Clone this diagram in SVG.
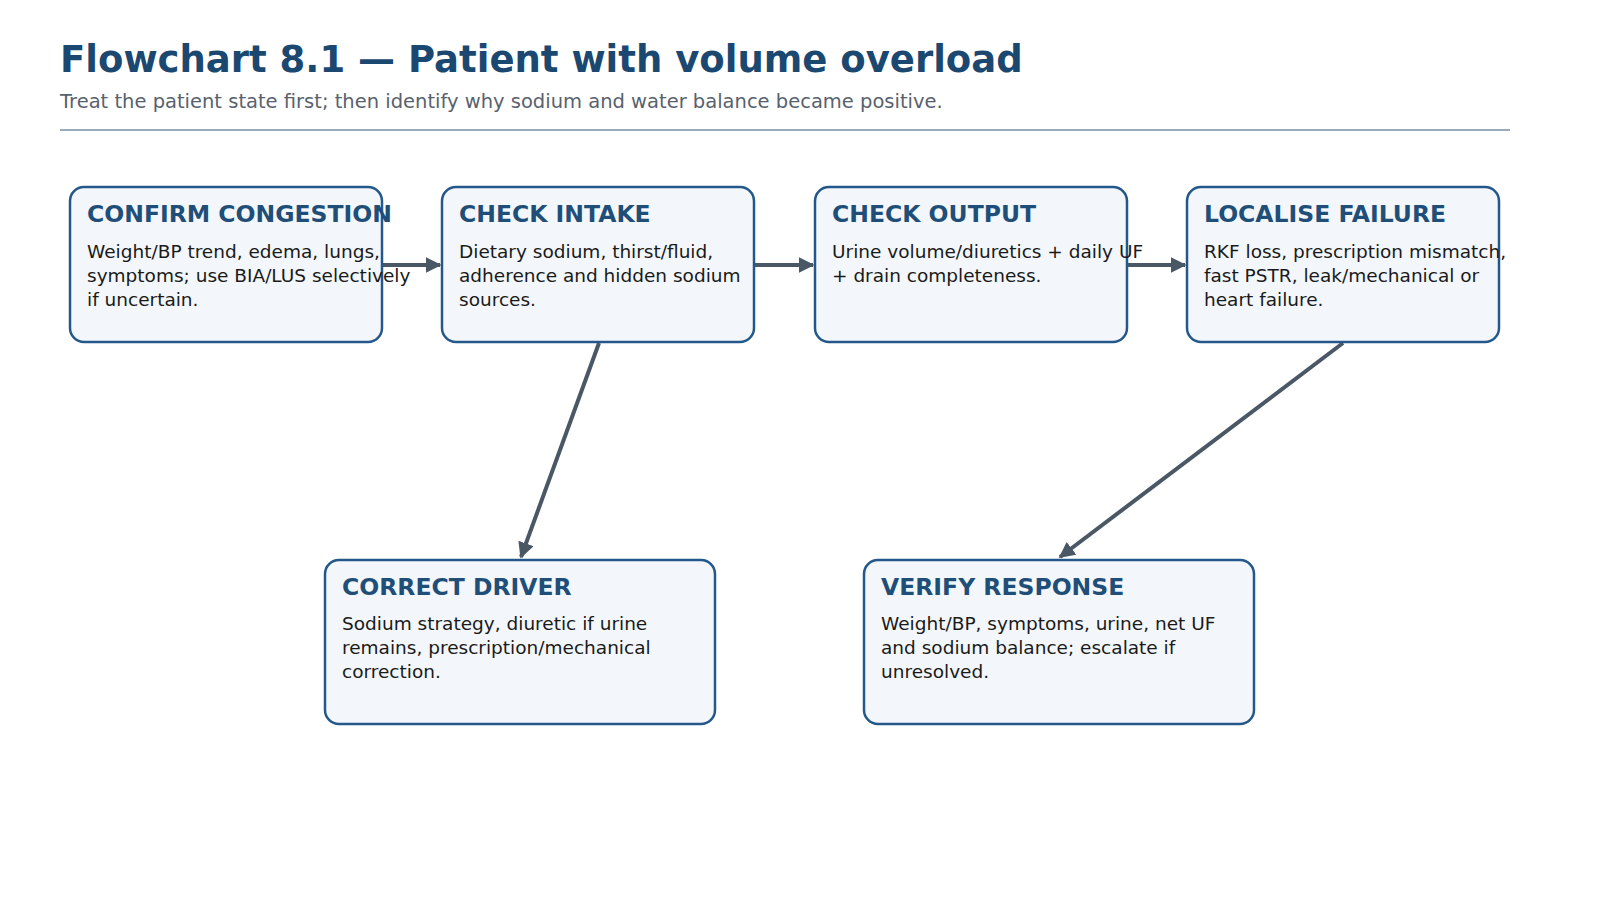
<svg xmlns="http://www.w3.org/2000/svg" width="1600" height="900" viewBox="0 0 1600 900">
<style>
.t{font-family:"DejaVu Sans",sans-serif;font-weight:bold;font-size:37px;fill:#1b4870}
.s{font-family:"DejaVu Sans",sans-serif;font-size:19.5px;fill:#58626e}
.box{fill:#f3f7fb;stroke:#24578a;stroke-width:2.5}
.h{font-family:"DejaVu Sans",sans-serif;font-weight:bold;font-size:23.5px;fill:#1f4e79}
.b{font-family:"DejaVu Sans",sans-serif;font-size:18.5px;fill:#1a1a1a}
.c{stroke:#4a5866;stroke-width:4;fill:none;marker-end:url(#a)}
</style>
<defs><marker id="a" markerWidth="4" markerHeight="4" refX="3.6" refY="2" orient="auto"><path d="M0,0L4,2L0,4z" fill="#4a5866"/></marker></defs>
<rect width="1600" height="900" fill="#fff"/>
<text class="t" x="60" y="72">Flowchart 8.1 — Patient with volume overload</text>
<text class="s" x="60" y="108">Treat the patient state first; then identify why sodium and water balance became positive.</text>
<line x1="60" y1="130" x2="1510" y2="130" stroke="#9aabbd" stroke-width="2"/>
<g id="connectors">
<line class="c" x1="382" y1="265" x2="440" y2="265"/>
<line class="c" x1="754" y1="265" x2="813" y2="265"/>
<line class="c" x1="1127" y1="265" x2="1185" y2="265"/>
<line class="c" x1="599" y1="343" x2="521" y2="557"/>
<line class="c" x1="1343" y1="343" x2="1060" y2="557"/>
</g>
<g id="n1"><rect class="box" x="70" y="187" width="312" height="155" rx="14"/>
<text class="h" x="87" y="222">CONFIRM CONGESTION</text>
<text class="b" x="87" y="258">Weight/BP trend, edema, lungs,</text>
<text class="b" x="87" y="282">symptoms; use BIA/LUS selectively</text>
<text class="b" x="87" y="306">if uncertain.</text></g>
<g id="n2"><rect class="box" x="442" y="187" width="312" height="155" rx="14"/>
<text class="h" x="459" y="222">CHECK INTAKE</text>
<text class="b" x="459" y="258">Dietary sodium, thirst/fluid,</text>
<text class="b" x="459" y="282">adherence and hidden sodium</text>
<text class="b" x="459" y="306">sources.</text></g>
<g id="n3"><rect class="box" x="815" y="187" width="312" height="155" rx="14"/>
<text class="h" x="832" y="222">CHECK OUTPUT</text>
<text class="b" x="832" y="258">Urine volume/diuretics + daily UF</text>
<text class="b" x="832" y="282">+ drain completeness.</text></g>
<g id="n4"><rect class="box" x="1187" y="187" width="312" height="155" rx="14"/>
<text class="h" x="1204" y="222">LOCALISE FAILURE</text>
<text class="b" x="1204" y="258">RKF loss, prescription mismatch,</text>
<text class="b" x="1204" y="282">fast PSTR, leak/mechanical or</text>
<text class="b" x="1204" y="306">heart failure.</text></g>
<g id="n5"><rect class="box" x="325" y="560" width="390" height="164" rx="14"/>
<text class="h" x="342" y="595">CORRECT DRIVER</text>
<text class="b" x="342" y="630">Sodium strategy, diuretic if urine</text>
<text class="b" x="342" y="654">remains, prescription/mechanical</text>
<text class="b" x="342" y="678">correction.</text></g>
<g id="n6"><rect class="box" x="864" y="560" width="390" height="164" rx="14"/>
<text class="h" x="881" y="595">VERIFY RESPONSE</text>
<text class="b" x="881" y="630">Weight/BP, symptoms, urine, net UF</text>
<text class="b" x="881" y="654">and sodium balance; escalate if</text>
<text class="b" x="881" y="678">unresolved.</text></g>
</svg>
